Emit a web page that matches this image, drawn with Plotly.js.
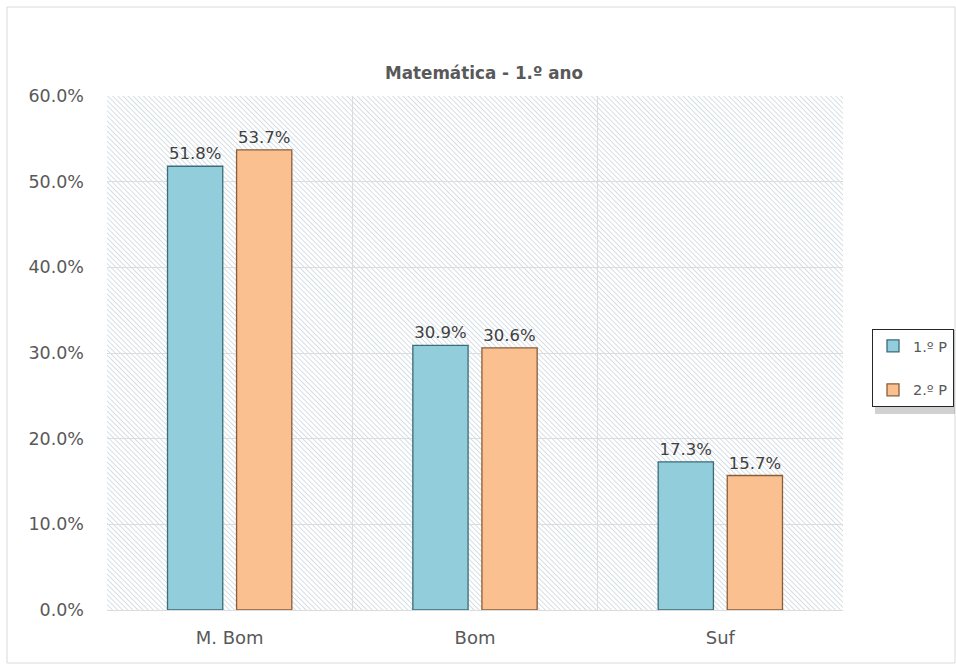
<!DOCTYPE html>
<html>
<head>
<meta charset="utf-8">
<script src="https://cdn.plot.ly/plotly-3.0.1.min.js"></script>
<style>html,body{margin:0;padding:0;background:#fff;}#chart{width:956px;height:664px;}</style>
</head>
<body>
<div id="chart"></div>
<script>
var categories = ["M. Bom", "Bom", "Suf"];
var seriesNames = ["1.º P", "2.º P"];
var values1 = [51.8, 30.9, 17.3];
var values2 = [53.7, 30.6, 15.7];
var chartTitle = "Matemática - 1.º ano";

var hatchSvg = "<svg xmlns='http://www.w3.org/2000/svg' width='736' height='514'>" +
  "<defs><pattern id='p' width='3.6' height='3.6' patternUnits='userSpaceOnUse' patternTransform='rotate(-45)'>" +
  "<line x1='0' y1='0' x2='0' y2='3.6' stroke='#c9d5de' stroke-width='1.5'/></pattern></defs>" +
  "<rect width='100%' height='100%' fill='#ffffff'/><rect width='100%' height='100%' fill='url(#p)'/></svg>";
var hatchUri = "data:image/svg+xml;charset=utf-8," + encodeURIComponent(hatchSvg);

var font = "'DejaVu Sans', sans-serif";

var traces = [
  {
    type: "bar", name: seriesNames[0], x: categories, y: values1,
    marker: {color: "#92CDDC", line: {color: "#3d6b78", width: 1.3}},
    texttemplate: "%{y:.1f}%", textposition: "outside",
    textfont: {family: font, size: 16.5, color: "#404040"},
    cliponaxis: false, legendgroup: "a", hoverinfo: "none"
  },
  {
    type: "bar", name: seriesNames[1], x: categories, y: values2,
    marker: {color: "#FAC090", line: {color: "#8a5d3b", width: 1.3}},
    texttemplate: "%{y:.1f}%", textposition: "outside",
    textfont: {family: font, size: 16.5, color: "#404040"},
    cliponaxis: false, legendgroup: "b", hoverinfo: "none"
  }
];

var layout = {
  width: 956, height: 664,
  margin: {l: 107, r: 113, t: 96, b: 54, autoexpand: false},
  paper_bgcolor: "#ffffff",
  plot_bgcolor: "rgba(0,0,0,0)",
  font: {family: font, color: "#595959"},
  title: {
    text: "<b>" + chartTitle + "</b>",
    font: {family: font, size: 16.8, color: "#595959"},
    x: (484 - 107) / 736, xref: "paper", xanchor: "center",
    y: 1 - 73/664, yref: "container", yanchor: "middle"
  },
  barmode: "group",
  bargap: 0.437,
  bargroupgap: 0.2,
  xaxis: {
    type: "category",
    tickson: "boundaries",
    showgrid: true, gridcolor: "#dcdcdc", gridwidth: 1,
    ticks: "", showline: false,
    tickfont: {family: font, size: 18, color: "#595959"},
    ticklabelstandoff: 15
  },
  yaxis: {
    range: [0, 60], dtick: 10,
    tickformat: ".1f", ticksuffix: "%",
    showgrid: true, gridcolor: "#dcdcdc", gridwidth: 1,
    zeroline: true, zerolinecolor: "#dcdcdc", zerolinewidth: 1,
    showline: false,
    tickfont: {family: font, size: 17.5, color: "#595959"},
    ticks: "", ticklabelstandoff: 22
  },
  legend: {
    x: (872 - 107) / 736, xanchor: "left",
    y: (610 - 368) / 514, yanchor: "middle",
    bgcolor: "#ffffff", bordercolor: "#262626", borderwidth: 1,
    font: {family: font, size: 14.5, color: "#595959"},
    traceorder: "grouped", tracegroupgap: 22,
    itemwidth: 30
  },
  images: [{
    source: hatchUri, xref: "paper", yref: "paper",
    x: 0, y: 1, sizex: 1, sizey: 1, sizing: "stretch",
    xanchor: "left", yanchor: "top", layer: "below"
  }],
  shapes: [
    {type: "rect", xref: "paper", yref: "paper",
     x0: (7 - 107) / 736, x1: (955 - 107) / 736,
     y0: (610 - 663) / 514, y1: (610 - 7) / 514,
     line: {color: "#d9d9d9", width: 1}, fillcolor: "rgba(0,0,0,0)", layer: "below"},
    {type: "rect", xref: "paper", yref: "paper",
     x0: (875 - 107) / 736, x1: (955 - 107) / 736,
     y0: (610 - 414) / 514, y1: (610 - 330) / 514,
     line: {width: 0}, fillcolor: "rgba(0,0,0,0.18)", layer: "above"}
  ]
};

Plotly.newPlot("chart", traces, layout, {displayModeBar: false, staticPlot: true});
</script>
</body>
</html>
